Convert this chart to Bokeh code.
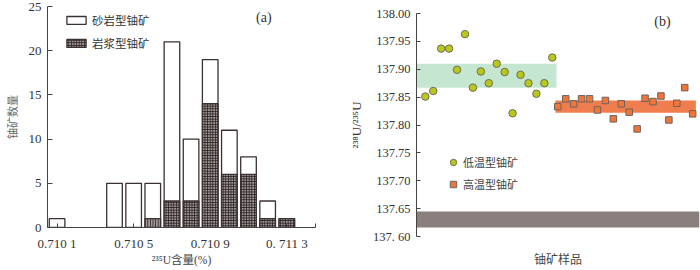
from bokeh.plotting import figure
from bokeh.layouts import row
from bokeh.models import ColumnDataSource, FixedTicker, Legend, LegendItem, Label, Range1d
from bokeh.embed import file_html
from bokeh.resources import INLINE

# ---------------- data: panel (a) ----------------
u235_bins = [0.7101, 0.7104, 0.7105, 0.7106, 0.7107, 0.7108, 0.7109, 0.7110, 0.7111, 0.7112, 0.7113]
total_counts = [1, 5, 5, 5, 21, 10, 19, 11, 8, 3, 1]          # sandstone + magmatic
magmatic_counts = [0, 0, 0, 1, 3, 3, 14, 6, 6, 1, 1]
a_ticks = [0.7101, 0.7105, 0.7109, 0.7113]
a_tick_labels = ["0.710 1", "0.710 5", "0.710 9", "0. 711 3"]
a_yticks = [0, 5, 10, 15, 20, 25]

# ---------------- data: panel (b) ----------------
low_x = [1, 2, 3, 4, 5, 6, 7, 8, 9, 10, 11, 12, 13, 14, 15, 16, 17]
low_ratio = [137.851, 137.861, 137.937, 137.937, 137.899, 137.963, 137.867, 137.896, 137.875,
             137.910, 137.895, 137.821, 137.890, 137.875, 137.856, 137.875, 137.921]
high_x = [17.7, 18.7, 19.7, 20.7, 21.7, 22.7, 23.7, 24.7, 25.7, 26.7, 27.7, 28.7, 29.7,
          30.7, 31.7, 32.7, 33.7, 34.7]
high_ratio = [137.833, 137.847, 137.838, 137.847, 137.847, 137.827, 137.844, 137.811, 137.838,
              137.823, 137.793, 137.848, 137.842, 137.852, 137.809, 137.839, 137.867, 137.820]
low_band = (137.867, 137.910)
high_band = (137.822, 137.844)
ref_band = (137.616, 137.645)
b_yticks = [137.60, 137.65, 137.70, 137.75, 137.80, 137.85, 137.90, 137.95, 138.00]
b_tick_labels = {137.60: "137. 60"}

SERIF = "Liberation Serif"
CJK = "Noto Sans CJK SC"
MIX = "'Liberation Serif', 'Noto Sans CJK SC'"
AX = "#444444"

# ================= panel (a) =================
ax0, ax1 = 0.71005, 0.71145
pa = figure(width=345, height=270, output_backend="svg", toolbar_location=None,
            x_range=Range1d(ax0, ax1), y_range=Range1d(0, 25),
            min_border_left=45, min_border_right=30, min_border_top=6, min_border_bottom=43,
            frame_align=False)
pa.grid.visible = False
pa.outline_line_color = None

src_total = ColumnDataSource(dict(x=u235_bins, top=total_counts))
mag_x = [x for x, m in zip(u235_bins, magmatic_counts) if m > 0]
mag_v = [m for m in magmatic_counts if m > 0]
mag_hatch = ["vertical_line" if x == 0.7106 else "cross" for x in mag_x]
src_mag = ColumnDataSource(dict(x=mag_x, top=mag_v, pattern=mag_hatch))

bar_w = 0.0000815
r_total = pa.vbar(x="x", top="top", bottom=0, width=bar_w, source=src_total,
                  fill_color="white", line_color="#3a3232", line_width=1.3)
r_mag = pa.vbar(x="x", top="top", bottom=0, width=bar_w, source=src_mag,
                fill_color="#a09696", line_color="#3a3232", line_width=1.3,
                hatch_pattern="pattern", hatch_color="#2e2626", hatch_scale=2.6, hatch_weight=1.0)

xa = pa.xaxis[0]
xa.ticker = FixedTicker(ticks=a_ticks + [ax1])
overrides = {t: l for t, l in zip(a_ticks, a_tick_labels)}
overrides[ax1] = ""
xa.major_label_overrides = overrides
xa.minor_tick_line_color = None
xa.major_tick_in = 4
xa.major_tick_out = 0
xa.major_label_standoff = 8
xa.axis_line_color = AX
xa.major_tick_line_color = AX
xa.major_label_text_font = SERIF
xa.major_label_text_font_size = "13px"
xa.major_label_text_color = "#333333"
xa.axis_label = "²³⁵U含量(%)"
xa.axis_label_text_font = MIX
xa.axis_label_text_font_style = "normal"
xa.axis_label_text_font_size = "11.5px"
xa.axis_label_text_color = "#444444"
xa.axis_label_standoff = 0

ya = pa.yaxis[0]
ya.ticker = FixedTicker(ticks=a_yticks)
ya.minor_tick_line_color = None
ya.major_tick_in = 5
ya.major_tick_out = 0
ya.major_label_standoff = 6
ya.axis_line_color = AX
ya.major_tick_line_color = AX
ya.major_label_text_font = SERIF
ya.major_label_text_font_size = "13px"
ya.major_label_text_color = "#333333"
ya.axis_label = "铀矿数量"
ya.axis_label_text_font = CJK
ya.axis_label_text_font_style = "normal"
ya.axis_label_text_font_size = "11px"
ya.axis_label_text_color = "#666666"
ya.axis_label_standoff = 6

leg_a = Legend(items=[LegendItem(label="砂岩型铀矿", renderers=[r_total], index=0),
                      LegendItem(label="岩浆型铀矿", renderers=[r_mag], index=3)],
               location=(17, 176), glyph_width=24, glyph_height=10, spacing=7,
               padding=0, margin=0, label_standoff=4, border_line_color=None,
               background_fill_alpha=0, label_text_font=CJK, label_text_font_size="11.5px",
               label_text_color="#333333", label_height=10)
pa.add_layout(leg_a)
pa.add_layout(Label(x=0.71118, y=23.8, text="(a)", text_font=SERIF, text_font_size="14px",
                    text_align="center", text_baseline="middle", text_color="#333333"))

# ================= panel (b) =================
bx0, bx1 = -0.11, 35.56
pb = figure(width=355, height=270, output_backend="svg", toolbar_location=None,
            x_range=Range1d(bx0, bx1), y_range=Range1d(137.60, 138.00),
            min_border_left=65, min_border_right=1, min_border_top=13, min_border_bottom=34,
            frame_align=False)
pb.grid.visible = False
pb.outline_line_color = None

pb.quad(left=[bx0], right=[17.54], bottom=[low_band[0]], top=[low_band[1]],
        fill_color="#c5e6d1", line_color=None)
pb.quad(left=[17.4], right=[35.1], bottom=[high_band[0]], top=[high_band[1]],
        fill_color="#f07d4d", line_color=None)
pb.quad(left=[bx0], right=[bx1], bottom=[ref_band[0]], top=[ref_band[1]],
        fill_color="#8a7f7c", line_color=None)

r_low = pb.scatter(low_x, low_ratio, marker="circle", size=7.5, fill_color="#b9c61e",
                   line_color="#6f6f55", line_width=1)
r_high = pb.scatter(high_x, high_ratio, marker="square", size=6.5, fill_color="#f27535",
                    line_color="#6a6464", line_width=1)

xb = pb.xaxis[0]
xb.ticker = FixedTicker(ticks=[])
xb.axis_line_color = None
xb.major_tick_line_color = None
xb.minor_tick_line_color = None
xb.major_label_text_font_size = "0px"
xb.axis_label = "铀矿样品"
xb.axis_label_text_font = CJK
xb.axis_label_text_font_style = "normal"
xb.axis_label_text_font_size = "12px"
xb.axis_label_text_color = "#444444"
xb.axis_label_standoff = 13

yb = pb.yaxis[0]
yb.ticker = FixedTicker(ticks=b_yticks)
yb.major_label_overrides = {t: (b_tick_labels[t] if t in b_tick_labels else f"{t:.2f}") for t in b_yticks}
yb.minor_tick_line_color = None
yb.major_tick_in = 4
yb.major_tick_out = 0
yb.major_label_standoff = 6
yb.axis_line_color = AX
yb.major_tick_line_color = AX
yb.major_label_text_font = SERIF
yb.major_label_text_font_size = "12.5px"
yb.major_label_text_color = "#333333"
yb.axis_label = "²³⁸U/²³⁵U"
yb.axis_label_text_font = SERIF
yb.axis_label_text_font_style = "normal"
yb.axis_label_text_font_size = "13px"
yb.axis_label_text_color = "#333333"
yb.axis_label_standoff = 6

leg_b = Legend(items=[LegendItem(label="低温型铀矿", renderers=[r_low]),
                      LegendItem(label="高温型铀矿", renderers=[r_high])],
               location=(29, 44), glyph_width=16, glyph_height=16, spacing=6,
               padding=0, margin=0, label_standoff=2, border_line_color=None,
               background_fill_alpha=0, label_text_font=CJK, label_text_font_size="11px",
               label_text_color="#444444", label_height=12)
pb.add_layout(leg_b)
pb.add_layout(Label(x=30.9, y=137.986, text="(b)", text_font=SERIF, text_font_size="14px",
                    text_align="center", text_baseline="middle", text_color="#333333"))

layout = row(pa, pb)
open("out.html", "w").write(file_html(layout, INLINE))
